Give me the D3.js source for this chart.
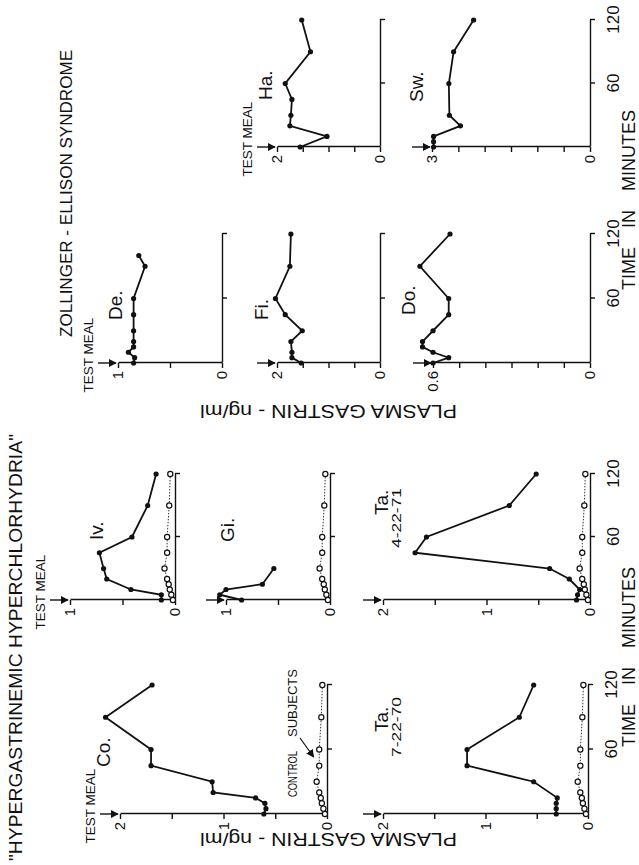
<!DOCTYPE html>
<html>
<head>
<meta charset="utf-8">
<script src="https://cdn.jsdelivr.net/npm/d3@7"></script>
<style>
    body { margin: 0; background: #fff; }
    svg text { font-family: "Liberation Sans", Arial, sans-serif; fill: #111; }
    .axis path, .axis line { stroke: #111; stroke-width: 1.4; }
    .axis text { font-size: 15px; fill: #111; }
    .axis.time text { font-size: 17px; }
</style>
</head>
<body>
<div id="chart"></div>
<script>

// sampling times (min) and the control subjects curve (ng/ml)
var sampleTimes = [0, 5, 10, 15, 20, 30, 45, 60, 90, 120];
var controlGastrin = [0.02, 0.035, 0.05, 0.06, 0.075, 0.10, 0.075, 0.075, 0.055, 0.045];

// "hypergastrinemic hyperchlorhydria" patients
var coTimes = [0, 5, 10, 15, 20, 30, 45, 60, 90, 120];
var coGastrin = [0.61, 0.59, 0.60, 0.69, 1.10, 1.11, 1.70, 1.70, 2.14, 1.69];
var ivTimes = [0, 5, 10, 20, 30, 45, 60, 90, 120];
var ivGastrin = [0.13, 0.13, 0.42, 0.65, 0.68, 0.72, 0.41, 0.26, 0.18];
var giTimes = [0, 5, 10, 15, 30];
var giGastrin = [0.85, 1.06, 1.00, 0.65, 0.54];
var ta70Times = [0, 5, 10, 15, 30, 45, 60, 90, 120];
var ta70Gastrin = [0.31, 0.31, 0.31, 0.30, 0.53, 1.18, 1.18, 0.67, 0.53];
var ta71Times = [0, 5, 10, 20, 30, 45, 60, 90, 120];
var ta71Gastrin = [0.13, 0.12, 0.10, 0.20, 0.39, 1.69, 1.58, 0.78, 0.52];

// Zollinger-Ellison patients
var deTimes = [0, 5, 10, 15, 20, 30, 45, 60, 90, 100];
var deGastrin = [0.85, 0.84, 0.90, 0.85, 0.85, 0.85, 0.85, 0.85, 0.74, 0.80];
var fiTimes = [0, 5, 10, 20, 30, 45, 60, 90, 120];
var fiGastrin = [1.53, 1.71, 1.71, 1.73, 1.51, 1.84, 2.03, 1.75, 1.73];
var doTimes = [0, 5, 10, 15, 20, 30, 45, 60, 90, 120];
var doGastrin = [0.60, 0.54, 0.60, 0.64, 0.64, 0.60, 0.54, 0.54, 0.65, 0.535];
var haTimes = [0, 10, 20, 30, 45, 60, 90, 120];
var haGastrin = [1.55, 1.03, 1.75, 1.73, 1.71, 1.84, 1.35, 1.52];
var swTimes = [0, 5, 10, 20, 30, 60, 90, 120];
var swGastrin = [2.97, 2.97, 2.97, 2.46, 2.67, 2.68, 2.59, 2.21];

var timeTicks = [60, 120];

// panel layout, in the upright frame (u = along time, v = down the page)
var panels = [
    { name: "Co.", times: coTimes, values: coGastrin, max: 2, step: 0.5, labels: [0, 1, 2],
      u: [51, 180], v: [120, 327], control: true, meal: true, timeLabels: false, nameAt: [98, 110] },
    { name: "Iv.", times: ivTimes, values: ivGastrin, max: 1, step: 0.5, labels: [0, 1],
      u: [265, 391], v: [70, 175], control: true, meal: true, timeLabels: false, nameAt: [325, 103] },
    { name: "Gi.", times: giTimes, values: giGastrin, max: 1, step: 0.5, labels: [0, 1],
      u: [265, 391], v: [226, 330], control: true, meal: false, timeLabels: false, nameAt: [323, 234] },
    { name: "Ta.", date: "7-22-70", times: ta70Times, values: ta70Gastrin, max: 2, step: 0.5, labels: [0, 1, 2],
      u: [51, 180], v: [383, 588], control: true, meal: false, timeLabels: true, nameAt: [133, 388], dateAt: [108, 401] },
    { name: "Ta.", date: "4-22-71", times: ta71Times, values: ta71Gastrin, max: 2, step: 0.5, labels: [0, 1, 2],
      u: [265, 391], v: [383, 590], control: true, meal: false, timeLabels: true, nameAt: [350, 388], dateAt: [317, 401] },
    { name: "De.", times: deTimes, values: deGastrin, max: 1, step: 0.5, labels: [0, 1],
      u: [502, 631], v: [118, 222], control: false, meal: true, timeLabels: false, nameAt: [545, 122] },
    { name: "Fi.", times: fiTimes, values: fiGastrin, max: 2, step: 0.5, labels: [0, 2],
      u: [502, 631], v: [277, 380], control: false, meal: false, timeLabels: false, nameAt: [545, 268] },
    { name: "Do.", times: doTimes, values: doGastrin, max: 0.6, step: 0.1, labels: [0, 0.6],
      u: [502, 631], v: [433, 590], control: false, meal: false, timeLabels: true, nameAt: [550, 415] },
    { name: "Ha.", times: haTimes, values: haGastrin, max: 2, step: 0.5, labels: [0, 2],
      u: [718, 845], v: [277, 380], control: false, meal: true, timeLabels: false, nameAt: [765, 272] },
    { name: "Sw.", times: swTimes, values: swGastrin, max: 3, step: 0.5, labels: [0, 3],
      u: [718, 845], v: [432, 590], control: false, meal: false, timeLabels: true, nameAt: [763, 423] }
];

var svg = d3.select("#chart").append("svg")
    .attr("width", 639)
    .attr("height", 865);

// the figure is printed sideways: draw it upright and turn the whole thing
var fig = svg.append("g")
    .attr("transform", "translate(0,865) rotate(-90)");

var defs = fig.append("defs");
defs.append("marker")
    .attr("id", "head")
    .attr("viewBox", "0 0 10 10")
    .attr("refX", 9).attr("refY", 5)
    .attr("markerWidth", 8).attr("markerHeight", 8)
    .attr("markerUnits", "userSpaceOnUse")
    .attr("orient", "auto")
    .append("path")
    .attr("d", "M0,0L10,5L0,10z")
    .attr("fill", "#111");

function fmt(d) {
    return d === 0 ? "0" : String(+d.toFixed(1));
}

panels.forEach(function(p) {
    var x = d3.scaleLinear().domain([0, 120]).range(p.u);
    var y = d3.scaleLinear().domain([0, p.max]).range([p.v[1], p.v[0]]);
    var g = fig.append("g");

    var ticks = d3.range(0, p.max + p.step / 2, p.step);
    var yAxis = d3.axisLeft(y)
        .tickValues(ticks)
        .tickSize(5)
        .tickSizeOuter(0)
        .tickPadding(3)
        .tickFormat(function(d) {
            var show = p.labels.some(function(l) { return Math.abs(l - d) < 1e-6; });
            return show ? fmt(d) : "";
        });
    g.append("g")
        .attr("class", "axis")
        .attr("transform", "translate(" + p.u[0] + ",0)")
        .call(yAxis);

    var xAxis = d3.axisBottom(x)
        .tickValues(timeTicks)
        .tickSize(5)
        .tickSizeOuter(0)
        .tickPadding(12)
        .tickFormat(function(d) { return p.timeLabels ? d : ""; });
    g.append("g")
        .attr("class", "axis time")
        .attr("transform", "translate(0," + p.v[1] + ")")
        .call(xAxis);

    var line = d3.line()
        .x(function(d) { return x(d[0]); })
        .y(function(d) { return y(d[1]); });

    if (p.control) {
        var ctl = sampleTimes.map(function(t, i) { return [t, controlGastrin[i]]; });
        g.append("path")
            .attr("d", line(ctl))
            .attr("fill", "none")
            .attr("stroke", "#333")
            .attr("stroke-width", 1)
            .attr("stroke-dasharray", "1.5,1.5");
        g.selectAll(".ctl").data(ctl).enter().append("circle")
            .attr("class", "ctl")
            .attr("cx", function(d) { return x(d[0]); })
            .attr("cy", function(d) { return y(d[1]); })
            .attr("r", 2.6)
            .attr("fill", "#fff")
            .attr("stroke", "#111")
            .attr("stroke-width", 1.2);
    }

    var pts = p.times.map(function(t, i) { return [t, p.values[i]]; });
    g.append("path")
        .attr("d", line(pts))
        .attr("fill", "none")
        .attr("stroke", "#111")
        .attr("stroke-width", 1.8);
    g.selectAll(".pt").data(pts).enter().append("circle")
        .attr("class", "pt")
        .attr("cx", function(d) { return x(d[0]); })
        .attr("cy", function(d) { return y(d[1]); })
        .attr("r", 2.6)
        .attr("fill", "#111");

    // test meal arrow at time zero
    g.append("line")
        .attr("x1", x(0)).attr("x2", x(0))
        .attr("y1", p.v[0] - 20).attr("y2", p.v[0] - 2)
        .attr("stroke", "#111")
        .attr("stroke-width", 1.4)
        .attr("marker-end", "url(#head)");
    if (p.meal) {
        g.append("text")
            .attr("x", x(0) + 8)
            .attr("y", p.v[0] - 25)
            .attr("text-anchor", "middle")
            .style("font-size", "13.5px")
            .text("TEST MEAL");
    }

    g.append("text")
        .attr("x", p.nameAt[0])
        .attr("y", p.nameAt[1])
        .style("font-size", "19px")
        .text(p.name);
    if (p.date) {
        g.append("text")
            .attr("x", p.dateAt[0])
            .attr("y", p.dateAt[1])
            .attr("textLength", 60)
            .attr("lengthAdjust", "spacingAndGlyphs")
            .style("font-size", "12.5px")
            .text(p.date);
    }

    if (p.name === "Co.") {
        g.append("text")
            .attr("x", 68).attr("y", 297)
            .attr("textLength", 46).attr("lengthAdjust", "spacingAndGlyphs")
            .style("font-size", "13px")
            .text("CONTROL");
        g.append("text")
            .attr("x", 128).attr("y", 297)
            .attr("textLength", 68).attr("lengthAdjust", "spacingAndGlyphs")
            .style("font-size", "13px")
            .text("SUBJECTS");
        g.append("line")
            .attr("x1", 127).attr("y1", 300)
            .attr("x2", x(53)).attr("y2", y(0.1) - 3)
            .attr("stroke", "#111")
            .attr("stroke-width", 1.2)
            .attr("marker-end", "url(#head)");
    }
});

// titles
fig.append("text")
    .attr("x", 4).attr("y", 22)
    .attr("textLength", 427)
    .attr("lengthAdjust", "spacingAndGlyphs")
    .style("font-size", "19px")
    .text("\"HYPERGASTRINEMIC  HYPERCHLORHYDRIA\"");

fig.append("text")
    .attr("x", 528).attr("y", 72)
    .attr("textLength", 287)
    .attr("lengthAdjust", "spacingAndGlyphs")
    .style("font-size", "16.5px")
    .text("ZOLLINGER - ELLISON  SYNDROME");

// axis titles, one per half
[32, 460].forEach(function(u) {
    fig.append("text")
        .attr("transform", "translate(" + u + ",457) rotate(-90)")
        .attr("textLength", 257)
        .attr("lengthAdjust", "spacingAndGlyphs")
        .style("font-size", "18px")
        .text("PLASMA  GASTRIN - ng/ml");
});

[118, 575].forEach(function(u) {
    fig.append("text")
        .attr("x", u).attr("y", 635)
        .style("font-size", "18px")
        .style("word-spacing", "14px")
        .text("TIME IN MINUTES");
});

</script>
</body>
</html>
